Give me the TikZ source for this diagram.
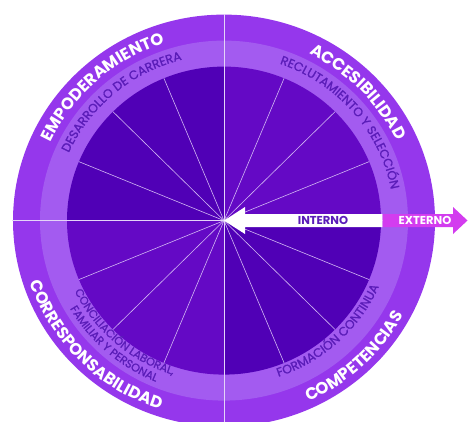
\documentclass[tikz,border=0pt]{standalone}
\usepackage{fontspec}
\setmainfont{Poppins}
\newfontfamily\midfont[FakeBold=1.2]{Poppins}
\usetikzlibrary{decorations.text}
\definecolor{outerc}{HTML}{9537EC}
\definecolor{midc}{HTML}{A35BF0}
\definecolor{innerdark}{HTML}{5000B6}
\definecolor{innerlight}{HTML}{6409C5}
\definecolor{magentac}{HTML}{D33CEF}
\definecolor{midtxt}{HTML}{5A1CB8}
\definecolor{spokec}{HTML}{D2B8F4}
\tikzset{
  spoke/.style={draw=spokec, line width=0.6pt},
  axisline/.style={draw=spokec!60!white, line width=0.8pt},
  arrowtxt/.style={font=\fontsize{11.5}{11.5}\selectfont\bfseries, inner sep=0pt},
}
\newcommand\arctxt[6]{%
  \path[decorate,decoration={text along path,text align=center,text={|#5|#6}}]
    ([shift={(C)}]#1:#3 and #4) arc[start angle=#1,end angle=#2,x radius=#3,y radius=#4];}
\newcommand\outerfmt{\fontsize{16.5}{16.5}\selectfont\bfseries\color{white}}
\newcommand\midfmt{\midfont\fontsize{12.3}{12.3}\selectfont\color{midtxt}}
\newcommand\smallfmt{\midfont\fontsize{11.2}{11.2}\selectfont\color{midtxt}}
\begin{document}
\begin{tikzpicture}[x=1pt,y=1pt]
\useasboundingbox (0,0) rectangle (468,421);
\clip (0,0) rectangle (468,421);
\coordinate (C) at (224,200.4);
% rings
\fill[outerc] (C) ellipse [x radius=211, y radius=206];
\fill[midc] (C) ellipse [x radius=184, y radius=180];
% inner quadrants
\fill[innerlight] (C) -- ++(0:157 and 154) arc[start angle=0,end angle=90,x radius=157,y radius=154] -- cycle;
\fill[innerdark] (C) -- ++(90:157 and 154) arc[start angle=90,end angle=180,x radius=157,y radius=154] -- cycle;
\fill[innerlight] (C) -- ++(180:157 and 154) arc[start angle=180,end angle=270,x radius=157,y radius=154] -- cycle;
\fill[innerdark] (C) -- ++(270:157 and 154) arc[start angle=270,end angle=360,x radius=157,y radius=154] -- cycle;
% spokes
\foreach \a in {22.5,45,67.5,112.5,135,157.5,202.5,225,247.5,292.5,315,337.5}
  \draw[spoke] (C) -- ++(\a:157 and 154);
\foreach \a in {0,90,180,270}
  \draw[axisline] (C) -- ++(\a:212 and 207);
% arrows
\fill[white] (C) -- (245,214) -- (245,207) -- (382.5,207) -- (382.5,194) -- (245,194) -- (245,187) -- cycle;
\fill[magentac] (382.5,207) -- (453,207) -- (453,214) -- (467.5,200.5) -- (453,187) -- (453,194) -- (382.5,194) -- cycle;
\node[arrowtxt, text=midtxt] (intern) at (323,200.5) {INTERNO};
\node[arrowtxt, text=white] (extern) at (425,200.5) {EXTERNO};
% outer ring texts
\arctxt{192}{72}{191}{186.4}{\outerfmt}{EMPODERAMIENTO}
\arctxt{104}{-16}{191}{186.4}{\outerfmt}{ACCESIBILIDAD}
\arctxt{164.5}{284.5}{204}{199}{\outerfmt}{CORRESPONSABILIDAD}
\arctxt{253.5}{373.5}{204}{199}{\outerfmt}{COMPETENCIAS}
% middle ring texts
\arctxt{190.5}{70.5}{170}{166}{\midfmt}{DESARROLLO DE CARRERA}
\arctxt{100.5}{-19.5}{170}{166}{\midfmt}{RECLUTAMIENTO Y SELECCIÓN}
\arctxt{168.5}{288.5}{166}{162}{\smallfmt}{CONCILIACIÓN LABORAL,}
\arctxt{168.5}{288.5}{178.5}{174.3}{\smallfmt}{FAMILIAR Y PERSONAL}
\arctxt{253}{373}{169}{165}{\midfmt}{FORMACIÓN CONTINUA}
\end{tikzpicture}
\end{document}
